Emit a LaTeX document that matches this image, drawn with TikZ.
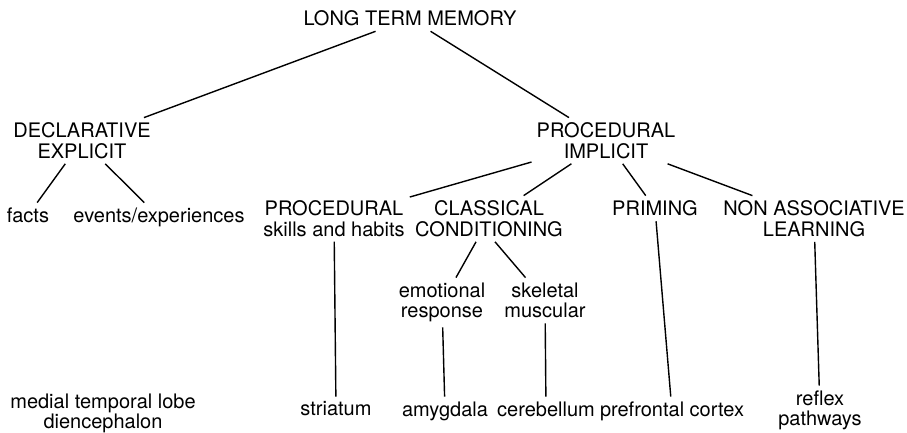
\documentclass[tikz,border=0pt]{standalone}
\usepackage{fontspec}
\setmainfont{TeX Gyre Heros}

\begin{document}
\begin{tikzpicture}[x=1pt, y=-1pt,
        term/.style = {inner sep=5pt, anchor=north, align=center, font=\fontsize{20}{20.5}\selectfont},
        link/.style = {draw, line width=1.4pt}]
            \useasboundingbox (0,0) rectangle (907,433);
            % root
            \node[term](ltm)at(410,5.6){LONG TERM MEMORY};
            % second level
            \node[term](decl)at(82,117.6){DECLARATIVE\\EXPLICIT};
            \node[term](impl)at(606,117.6){PROCEDURAL\\IMPLICIT};
            % declarative
            \node[term](facts)at(28,202.6){facts};
            \node[term](events)at(159,202.6){events/experiences};
            \node[term](medial)at(103,388.6){medial temporal lobe\\diencephalon};
            % implicit
            \node[term](skills)at(334,195.6){PROCEDURAL\\skills and habits};
            \node[term](classic)at(489,195.6){CLASSICAL\\CONDITIONING};
            \node[term](priming)at(655,195.6){PRIMING};
            \node[term](nonassoc)at(814,195.6){NON ASSOCIATIVE\\LEARNING};
            \node[term](emot)at(442,277.6){emotional\\response};
            \node[term](skel)at(545,277.6){skeletal\\muscular};
            % brain areas
            \node[term](striatum)at(336,396.6){striatum};
            \node[term](amyg)at(445,396.6){amygdala};
            \node[term](cereb)at(546,396.6){cerebellum};
            \node[term](prefr)at(672,396.6){prefrontal cortex};
            \node[term](reflex)at(820,385.6){reflex\\pathways};
            % links
            \path[link](ltm)to(decl);
            \path[link](ltm)to(impl);
            \path[link](decl)to(facts);
            \path[link](decl)to(events);
            \path[link](impl)to(skills);
            \path[link](impl)to(classic);
            \path[link](impl)to(priming);
            \path[link](impl)to(nonassoc);
            \path[link](classic)to(emot);
            \path[link]([xshift=6pt]classic.south)to(skel);
            \path[link](skills)to(striatum);
            \path[link](emot)to(amyg);
            \path[link](skel)to(cereb);
            \path[link](priming)to(prefr);
            \path[link](nonassoc)to(reflex);
        \end{tikzpicture}
\end{document}
